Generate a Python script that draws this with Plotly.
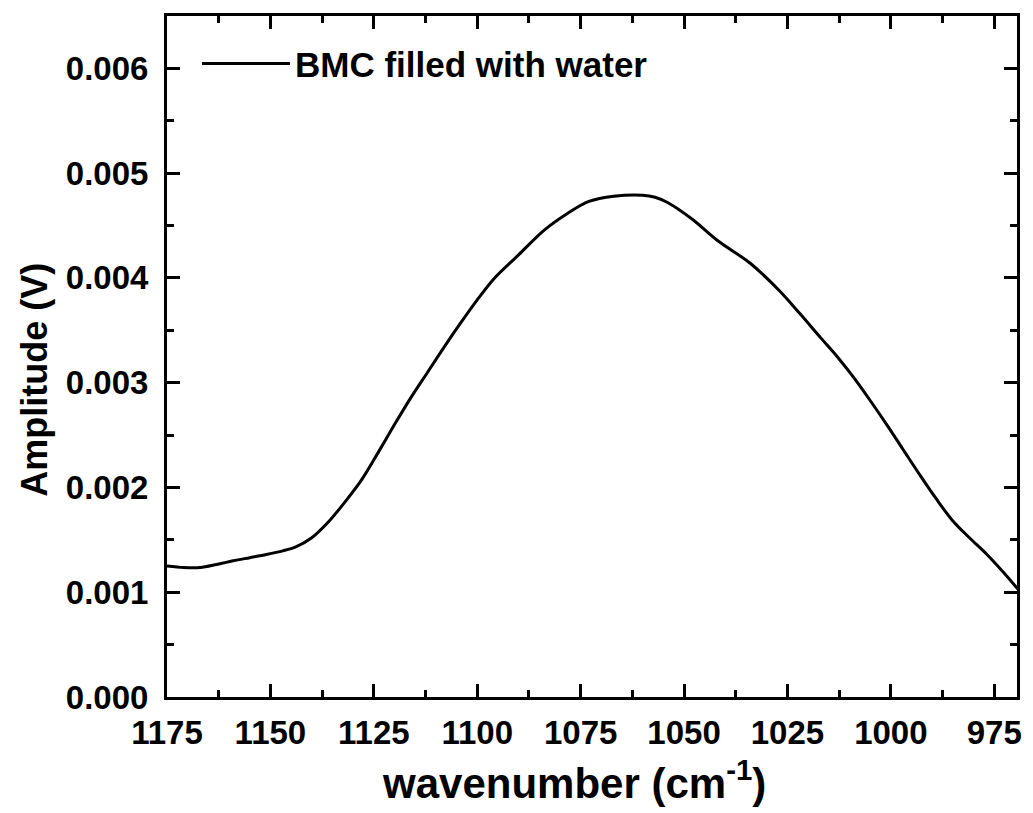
import plotly.graph_objects as go

wavenumber = [1175, 1171, 1167, 1163, 1159, 1155, 1151, 1147, 1144, 1140, 1136, 1132,
              1128, 1124, 1120, 1116, 1112, 1108, 1104, 1100, 1096, 1090, 1084, 1078,
              1073, 1067, 1060, 1057, 1054, 1048, 1042, 1034, 1027, 1022, 1017, 1013,
              1009, 1005, 1001, 997, 993, 989, 985, 981, 977, 973, 969.3]
amplitude_mV = [1.25, 1.235, 1.235, 1.265, 1.30, 1.33, 1.36, 1.395, 1.43, 1.52, 1.67, 1.86,
                2.07, 2.33, 2.60, 2.86, 3.10, 3.34, 3.57, 3.79, 3.99, 4.22, 4.45, 4.62,
                4.73, 4.78, 4.79, 4.77, 4.72, 4.56, 4.36, 4.14, 3.88, 3.66, 3.43, 3.25,
                3.05, 2.83, 2.60, 2.36, 2.12, 1.89, 1.68, 1.52, 1.37, 1.20, 1.03]
amplitude = [a / 1000 for a in amplitude_mV]

x_ticks = [1175, 1150, 1125, 1100, 1075, 1050, 1025, 1000, 975]
y_ticks = [0.000, 0.001, 0.002, 0.003, 0.004, 0.005, 0.006]
y_tick_text = [f"{v:.3f}" for v in y_ticks]

FONT = "Liberation Sans, Arial, sans-serif"

fig = go.Figure()
fig.add_trace(go.Scatter(
    x=wavenumber, y=amplitude, mode="lines",
    line=dict(color="black", width=3, shape="spline", smoothing=0.9),
    name="BMC filled with water",
))

axis_common = dict(
    showline=True, linecolor="black", linewidth=3, mirror="allticks",
    ticks="inside", ticklen=13, tickwidth=3, tickcolor="black",
    showgrid=False, zeroline=False,
    tickfont=dict(family=FONT, size=33, color="black", weight="bold"),
)

fig.update_xaxes(
    range=[1175, 969.5], tickvals=x_ticks, ticktext=[str(t) for t in x_ticks],
    minor=dict(ticks="inside", ticklen=7, tickwidth=3, tickcolor="black", dtick=12.5, tick0=975),
    ticklabelstandoff=4,
    **axis_common,
)
fig.update_yaxes(
    range=[0, 0.0065], tickvals=y_ticks, ticktext=y_tick_text,
    minor=dict(ticks="inside", ticklen=7, tickwidth=3, tickcolor="black", dtick=0.0005, tick0=0),
    ticklabelstandoff=9,
    **axis_common,
)

fig.add_annotation(
    text="wavenumber (cm<sup>-1</sup>)", xref="paper", yref="paper",
    x=0.479, y=0, xanchor="center", yanchor="middle", yshift=-83, showarrow=False,
    font=dict(family=FONT, size=42, color="black", weight="bold"),
)
fig.add_annotation(
    text="Amplitude (V)", xref="paper", yref="paper", textangle=-90,
    x=0, y=0.466, xanchor="center", yanchor="middle", xshift=-132, showarrow=False,
    font=dict(family=FONT, size=36, color="black", weight="bold"),
)

fig.update_layout(
    width=1025, height=805,
    margin=dict(l=159, r=16, t=5, b=116, pad=0),
    paper_bgcolor="white", plot_bgcolor="white",
    showlegend=True,
    legend=dict(x=0.0353, y=0.93, xanchor="left", yanchor="middle",
                bgcolor="rgba(0,0,0,0)", itemwidth=88,
                font=dict(family=FONT, size=35, color="black", weight="bold")),
)

fig.write_html("out.html")
